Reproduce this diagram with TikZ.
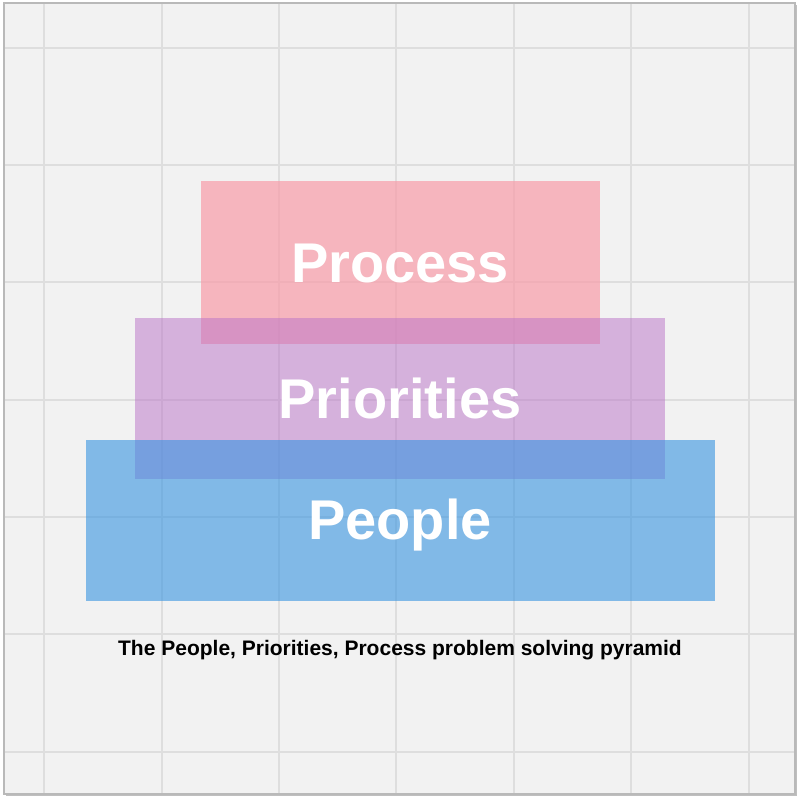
\documentclass[tikz,border=0pt]{standalone}
\usepackage{fontspec}
\setmainfont{Liberation Sans}
\definecolor{bgc}{RGB}{242,242,242}
\definecolor{gridc}{RGB}{222,222,222}
\definecolor{framec}{RGB}{185,185,185}
\definecolor{pinkc}{RGB}{249,156,168}
\definecolor{purplec}{RGB}{186,114,200}
\definecolor{bluec}{RGB}{55,147,225}
\tikzset{
  gridline/.style={draw=gridc, line width=1.4pt},
  tier/.style={inner sep=0pt, outer sep=0pt, draw=none},
  tierlabel/.style={text=white, font=\bfseries\fontsize{56}{56}\selectfont, anchor=base, inner sep=0pt},
  caption/.style={text=black, font=\bfseries\fontsize{21}{21}\selectfont, anchor=base, inner sep=0pt}
}
\begin{document}
\begin{tikzpicture}[x=1pt,y=-1pt]
\useasboundingbox (0,0) rectangle (800,799);
\fill[white] (0,0) rectangle (800,799);
\fill[black!25] (6,5) rectangle (797,796);
\fill[bgc] (4,3) rectangle (795,794);
\foreach \gx in {44,162,279,396,514,631,749} {
  \draw[gridline] (\gx,3) -- (\gx,794);
}
\foreach \gy in {48,165,282,400,517,634,752} {
  \draw[gridline] (4,\gy) -- (795,\gy);
}
\draw[framec, line width=1.2pt] (4,3) rectangle (795,794);
% tiers
\fill[pinkc, fill opacity=0.7] (201,181) rectangle (600,344);
\coordinate (procC) at (400.5,262.5);
\fill[purplec, fill opacity=0.5] (135,318) rectangle (665,479);
\coordinate (prioC) at (400,398.5);
\fill[bluec, fill opacity=0.6] (86,440) rectangle (715,601);
\coordinate (peopC) at (400.5,520.5);
\node[tierlabel] (process) at (400,283) {Process};
\node[tierlabel] (priorities) at (400,418) {Priorities};
\node[tierlabel] (people) at (400,539) {People};
\node[caption] (cap) at (400,655) {The People, Priorities, Process problem solving pyramid};
\end{tikzpicture}
\end{document}
